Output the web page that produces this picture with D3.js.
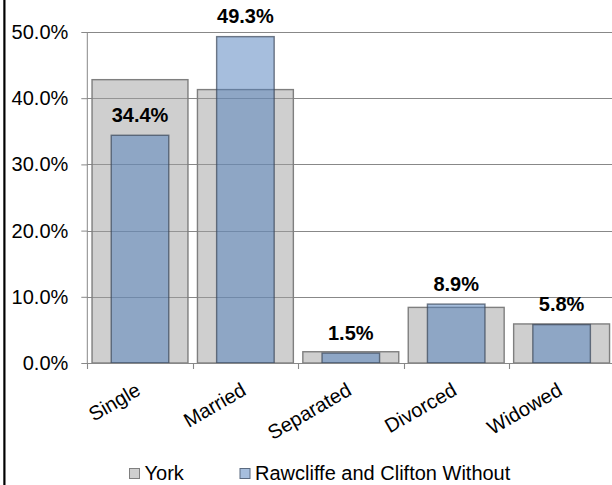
<!DOCTYPE html>
<html>
<head>
<meta charset="utf-8">
<script src="https://cdn.jsdelivr.net/npm/d3@7"></script>
<style>
  html, body { margin: 0; padding: 0; background: #fff; }
  svg { display: block; }
  text { font-family: "Liberation Sans", Arial, sans-serif; }
</style>
</head>
<body>
<svg id="chart" width="612" height="485"></svg>
<script>
const categories = ["Single", "Married", "Separated", "Divorced", "Widowed"];
const yorkValues = [42.8, 41.3, 1.7, 8.4, 5.9];
const rawcliffeValues = [34.4, 49.3, 1.5, 8.9, 5.8];
const seriesNames = ["York", "Rawcliffe and Clifton Without"];
const yTickValues = [0, 10, 20, 30, 40, 50];

const svg = d3.select("#chart");

// frame line on the left
svg.append("rect").attr("x", 3.3).attr("y", 0).attr("width", 2.2).attr("height", 485).attr("fill", "#000");

const plotLeft = 87.3, plotRight = 614.3, plotTop = 32, plotBottom = 363;

const x = d3.scaleBand().domain(categories).range([plotLeft, plotRight])
  .paddingInner(0.09).paddingOuter(0.045);
const y = d3.scaleLinear().domain([0, 50]).range([plotBottom, plotTop]);

const step = x.step();

// gridlines
svg.append("g").selectAll("line").data(yTickValues.filter(d => d > 0)).join("line")
  .attr("x1", plotLeft).attr("x2", plotRight)
  .attr("y1", d => Math.round(y(d)) + 0.5).attr("y2", d => Math.round(y(d)) + 0.5)
  .attr("stroke", "#888").attr("stroke-width", 1.1);

// York bars
svg.append("g").selectAll("rect").data(categories).join("rect")
  .attr("x", d => x(d))
  .attr("y", (d, i) => y(yorkValues[i]))
  .attr("width", x.bandwidth())
  .attr("height", (d, i) => y(0) - y(yorkValues[i]))
  .attr("fill", "rgb(160,160,160)").attr("fill-opacity", 0.5)
  .attr("stroke", "#7f7f7f").attr("stroke-width", 1.4);

// Rawcliffe bars
const blueW = x.bandwidth() * 0.6;
svg.append("g").selectAll("rect").data(categories).join("rect")
  .attr("x", d => x(d) + (x.bandwidth() - blueW) / 2)
  .attr("y", (d, i) => y(rawcliffeValues[i]))
  .attr("width", blueW)
  .attr("height", (d, i) => y(0) - y(rawcliffeValues[i]))
  .attr("fill", "rgb(77,125,187)").attr("fill-opacity", 0.5)
  .attr("stroke", "#3a4657").attr("stroke-opacity", 0.7).attr("stroke-width", 1.4);

// data labels
svg.append("g").selectAll("text").data(categories).join("text")
  .attr("x", d => x(d) + x.bandwidth() / 2)
  .attr("y", (d, i) => y(rawcliffeValues[i]) - 13.5)
  .attr("text-anchor", "middle")
  .attr("font-size", 20).attr("font-weight", "bold").attr("fill", "#000")
  .text((d, i) => rawcliffeValues[i].toFixed(1) + "%");

// y axis
const yAxis = svg.append("g").attr("transform", `translate(${plotLeft},0)`)
  .call(d3.axisLeft(y).tickValues(yTickValues).tickSize(6).tickPadding(13)
    .tickFormat(d => d.toFixed(1) + "%"));
yAxis.select(".domain").attr("stroke", "#888").attr("d", `M0,${plotTop}V${plotBottom}`);
yAxis.selectAll(".tick line").attr("stroke", "#888");
yAxis.selectAll(".tick text").attr("font-size", 20).attr("fill", "#000")
  .attr("font-family", "Liberation Sans, Arial, sans-serif");

// x axis line and boundary ticks
svg.append("line").attr("x1", plotLeft).attr("x2", plotRight)
  .attr("y1", plotBottom + 0.5).attr("y2", plotBottom + 0.5)
  .attr("stroke", "#888").attr("stroke-width", 1.1);
const boundaries = categories.map(d => x(d) - (step - x.bandwidth()) / 2);
svg.append("g").selectAll("line").data(boundaries).join("line")
  .attr("x1", d => Math.round(d) + 0.5).attr("x2", d => Math.round(d) + 0.5)
  .attr("y1", plotBottom).attr("y2", plotBottom + 6)
  .attr("stroke", "#888").attr("stroke-width", 1.1);

// category labels
svg.append("g").selectAll("text").data(categories).join("text")
  .attr("transform", d => `translate(${x(d) + x.bandwidth() / 2 + 2},394) rotate(-30)`)
  .attr("text-anchor", "end")
  .attr("font-size", 20).attr("fill", "#000")
  .text(d => d);

// legend
const legendX = [129.5, 240];
const legendFill = [["rgb(160,160,160)", 0.5], ["rgb(77,125,187)", 0.5]];
const lg = svg.append("g");
seriesNames.forEach((name, i) => {
  lg.append("rect").attr("x", legendX[i]).attr("y", 468.5).attr("width", 10).attr("height", 10)
    .attr("fill", legendFill[i][0]).attr("fill-opacity", legendFill[i][1])
    .attr("stroke", i === 0 ? "#7f7f7f" : "#5a6a80").attr("stroke-width", 1);
  lg.append("text").attr("x", legendX[i] + 15).attr("y", 479.5)
    .attr("font-size", 20).attr("fill", "#000").text(name);
});
</script>
</body>
</html>
